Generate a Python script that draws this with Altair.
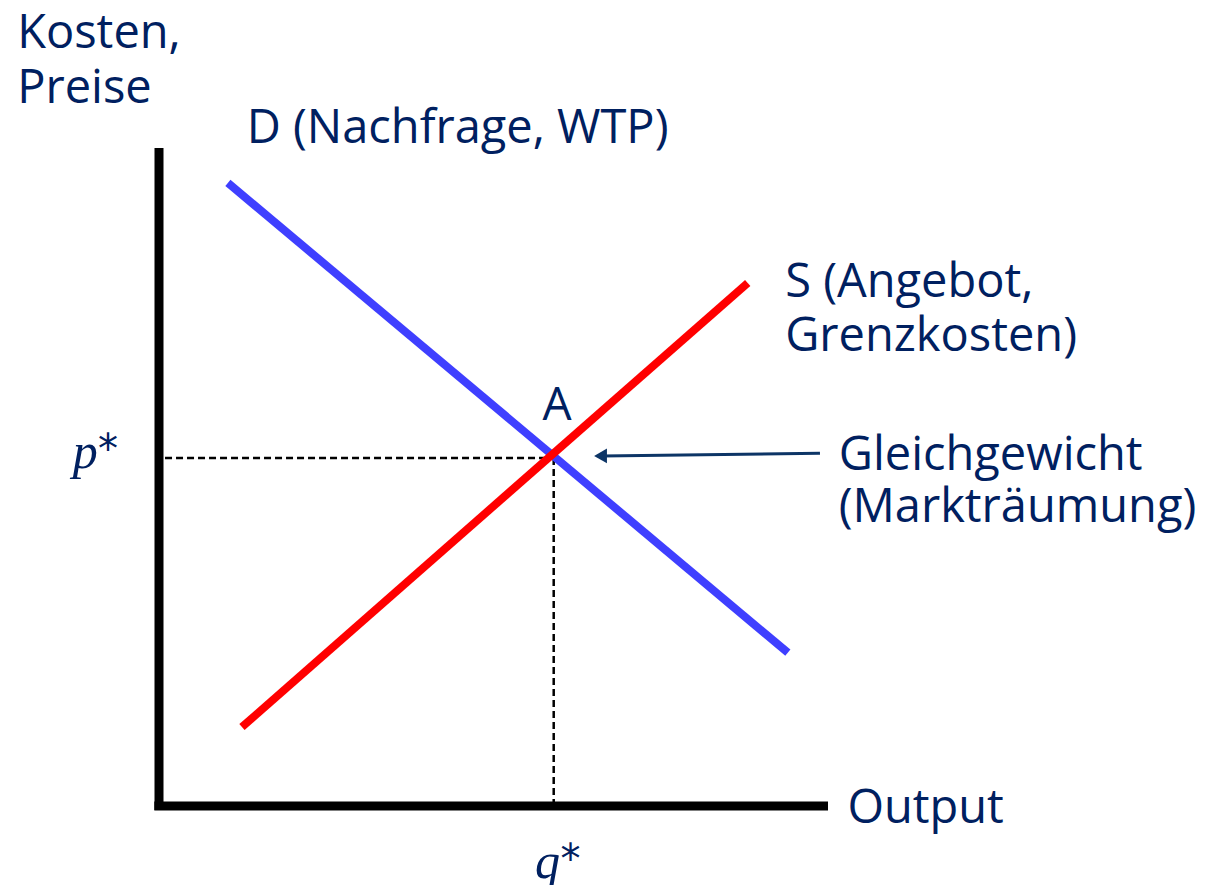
import altair as alt
import pandas as pd

# Curves (abstract units: output 0-10, cost/price 0-10)
curve_names = ["D", "D", "S", "S"]
curve_x = [1.03, 9.40, 1.24, 8.80]
curve_y = [9.47, 2.33, 1.20, 7.95]

# Equilibrium
q_star = 5.90
p_star = 5.29

# Text annotations (data coordinates)
label_text = ["Kosten,", "Preise", "D (Nachfrage, WTP)", "S (Angebot,", "Grenzkosten)",
              "Gleichgewicht", "(Markträumung)", "Output"]
label_x = [-2.12, -2.12, 1.31, 9.36, 9.36, 10.16, 10.16, 10.29]
label_y = [11.52, 10.68, 10.08, 7.74, 6.92, 5.11, 4.32, -0.26]

math_text = ["p", "q"]
math_x = [-1.29, 5.62]
math_y = [5.14, -1.09]

star_text = ["*", "*"]
star_x = [-0.91, 6.00]
star_y = [5.21, -1.02]

arrow_x = [9.88, 6.62]
arrow_y = [5.36, 5.32]

XS = alt.Scale(domain=[0, 10], range=[151, 820], nice=False, zero=False)
YS = alt.Scale(domain=[0, 10], range=[798, 140], nice=False, zero=False)


def xy():
    return dict(x=alt.X("x:Q", scale=XS, axis=None), y=alt.Y("y:Q", scale=YS, axis=None))


curves = pd.DataFrame({"curve": curve_names, "x": curve_x, "y": curve_y})
line_layer = alt.Chart(curves).mark_line(strokeWidth=8, strokeCap="butt").encode(
    color=alt.Color("curve:N", scale=alt.Scale(domain=["D", "S"], range=["#3f3fff", "#ff0000"]), legend=None),
    detail="curve:N",
    **xy(),
)

axes_df = pd.DataFrame({
    "x": [0, -0.07], "x2": [0, 10.0],
    "y": [-0.06, 0], "y2": [10.0, 0],
})
axes_layer = alt.Chart(axes_df).mark_rule(color="black", strokeWidth=9, strokeCap="butt").encode(
    x2="x2:Q", y2="y2:Q", **xy(),
)

dash_df = pd.DataFrame({
    "x": [0.09, q_star], "x2": [q_star, q_star],
    "y": [p_star, p_star], "y2": [p_star, 0.05],
})
dash_layer = alt.Chart(dash_df).mark_rule(color="black", strokeWidth=2.5, strokeDash=[7, 4]).encode(
    x2="x2:Q", y2="y2:Q", **xy(),
)

arrow_df = pd.DataFrame({"x": [arrow_x[0]], "x2": [arrow_x[1]], "y": [arrow_y[0]], "y2": [arrow_y[1]]})
arrow_line = alt.Chart(arrow_df).mark_rule(color="#0d3566", strokeWidth=3).encode(
    x2="x2:Q", y2="y2:Q", **xy(),
)
head_df = pd.DataFrame({"x": [arrow_x[1] - 0.02], "y": [arrow_y[1]]})
arrow_head = alt.Chart(head_df).mark_point(shape="triangle-left", filled=True, size=220,
                                          color="#0d3566", opacity=1).encode(**xy())

labels = pd.DataFrame({"t": label_text, "x": label_x, "y": label_y})
label_layer = alt.Chart(labels).mark_text(align="left", baseline="alphabetic", font="Open Sans",
                                          fontSize=47, color="#002060").encode(text="t:N", **xy())

a_df = pd.DataFrame({"t": ["A"], "x": [q_star + 0.05], "y": [5.87]})
a_layer = alt.Chart(a_df).mark_text(align="center", baseline="alphabetic", font="Open Sans",
                                    fontSize=46, color="#002060").encode(text="t:N", **xy())

math_df = pd.DataFrame({"t": math_text, "x": math_x, "y": math_y})
math_layer = alt.Chart(math_df).mark_text(align="left", baseline="alphabetic", font="Liberation Serif",
                                          fontStyle="italic", fontSize=50, color="#002060").encode(
    text="t:N", **xy())

star_df = pd.DataFrame({"t": star_text, "x": star_x, "y": star_y})
star_layer = alt.Chart(star_df).mark_text(align="left", baseline="alphabetic", font="DejaVu Sans",
                                          fontSize=40, color="#002060").encode(text="t:N", **xy())

chart = alt.layer(
    dash_layer, line_layer, axes_layer, arrow_line, arrow_head, label_layer, a_layer, math_layer, star_layer
).properties(
    width=1191, height=877, padding=0, autosize=alt.AutoSizeParams(type="none")
).configure_view(stroke=None)

chart.save("out.html", embed_options={"renderer": "svg", "actions": False})
